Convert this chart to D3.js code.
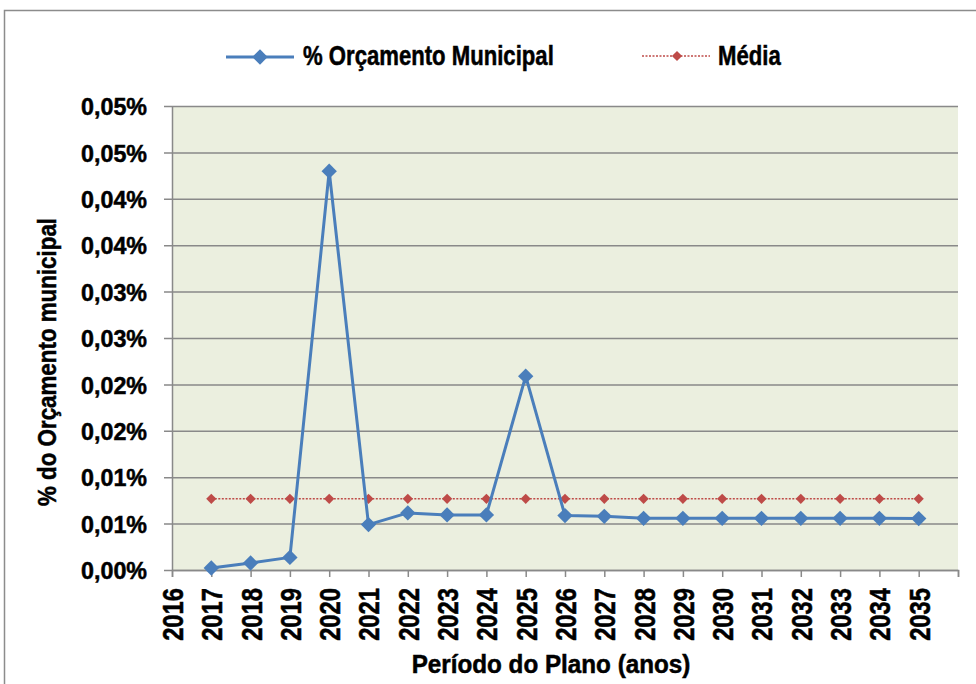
<!DOCTYPE html>
<html>
<head>
<meta charset="utf-8">
<script src="https://cdn.jsdelivr.net/npm/d3@7"></script>
<style>
  body { margin: 0; background: #fff; }
  text { font-family: "Liberation Sans", Arial, sans-serif; font-weight: bold; fill: #000;
         stroke: #000; stroke-width: 0.5px; }
</style>
</head>
<body>
<svg width="976" height="684"></svg>
<script>
// data (values in % units)
var years = [2017, 2018, 2019, 2020, 2021, 2022, 2023, 2024, 2025, 2026,
             2027, 2028, 2029, 2030, 2031, 2032, 2033, 2034, 2035];
var orcamento = [0.00022, 0.00076, 0.00136, 0.04298, 0.00489, 0.00615, 0.00594, 0.00594, 0.02089, 0.00586,
                 0.00578, 0.00557, 0.00557, 0.00557, 0.00557, 0.00557, 0.00557, 0.00557, 0.00554];
var media = [0.00767, 0.00767, 0.00767, 0.00767, 0.00767, 0.00767, 0.00767, 0.00767, 0.00767, 0.00767,
             0.00767, 0.00767, 0.00767, 0.00767, 0.00767, 0.00767, 0.00767, 0.00767, 0.00767];

var xTickYears = [2016, 2017, 2018, 2019, 2020, 2021, 2022, 2023, 2024, 2025, 2026,
                  2027, 2028, 2029, 2030, 2031, 2032, 2033, 2034, 2035, 2036];
var xTickLabels = ["2016", "2017", "2018", "2019", "2020", "2021", "2022", "2023", "2024", "2025", "2026",
                   "2027", "2028", "2029", "2030", "2031", "2032", "2033", "2034", "2035", ""];
var yTickValues = [0, 0.005, 0.01, 0.015, 0.02, 0.025, 0.03, 0.035, 0.04, 0.045, 0.05];
var yTickLabels = ["0,00%", "0,01%", "0,01%", "0,02%", "0,02%", "0,03%", "0,03%", "0,04%", "0,04%", "0,05%", "0,05%"];

var seriesNames = ["% Orçamento Municipal", "Média"];

var blue = "#4A7EBB", red = "#BE4B48", grid = "#898989";
var plot = {left: 172, right: 958, top: 106, bottom: 570};

// the chart font is a narrow bold sans; Liberation Sans squeezed sideways stands in for it
var narrow = 0.82;

var svg = d3.select("svg");

// outer frame
svg.append("rect")
  .attr("x", 4.5).attr("y", 10.5)
  .attr("width", 1000).attr("height", 700)
  .attr("fill", "none").attr("stroke", "#8c8c8c").attr("stroke-width", 1.5);

var x = d3.scaleLinear().domain([2016, 2036]).range([plot.left, plot.right]);
var y = d3.scaleLinear().domain([0, 0.05]).range([plot.bottom, plot.top]);

// plot background
svg.append("rect")
  .attr("x", plot.left).attr("y", plot.top)
  .attr("width", plot.right - plot.left).attr("height", plot.bottom - plot.top)
  .attr("fill", "#EBEFDF");

// y axis with gridlines
var ySx = 0.97;
var yAxis = svg.append("g")
  .attr("transform", "translate(" + plot.left + ",0)")
  .call(d3.axisLeft(y)
    .tickValues(yTickValues)
    .tickSizeInner(-(plot.right - plot.left))
    .tickSizeOuter(0)
    .tickFormat(function(d, i) { return yTickLabels[i]; }));
yAxis.select(".domain").attr("stroke", grid).attr("stroke-width", 1.5);
yAxis.selectAll(".tick line").attr("x1", -8).attr("stroke", grid).attr("stroke-width", 1.5);
yAxis.selectAll(".tick text")
  .attr("x", -25 / ySx)
  .attr("dy", "0.36em")
  .attr("transform", "scale(" + ySx + ",1)")
  .style("font-size", "24px");

// x axis
var xSx = narrow;
var xAxis = svg.append("g")
  .attr("transform", "translate(0," + plot.bottom + ")")
  .call(d3.axisBottom(x)
    .tickValues(xTickYears)
    .tickSize(7)
    .tickFormat(function(d, i) { return xTickLabels[i]; }));
xAxis.select(".domain").attr("stroke", grid).attr("stroke-width", 1.5);
xAxis.selectAll(".tick text")
  .attr("x", -18 / xSx)
  .attr("y", 0)
  .attr("dy", "0.36em")
  .attr("text-anchor", "end")
  .attr("transform", "rotate(-90) scale(" + xSx + ",1)")
  .style("font-size", "29px");
xAxis.selectAll(".tick line").attr("stroke", grid).attr("stroke-width", 1.5);

// series
var points = years.map(function(yr, i) { return {x: yr, o: orcamento[i], m: media[i]}; });

var lineO = d3.line().x(function(d) { return x(d.x); }).y(function(d) { return y(d.o); });
var lineM = d3.line().x(function(d) { return x(d.x); }).y(function(d) { return y(d.m); });

var bigDiamond = d3.symbol(d3.symbolSquare, 118);
var smallDiamond = d3.symbol(d3.symbolSquare, 52);

svg.append("path").datum(points)
  .attr("d", lineM)
  .attr("fill", "none").attr("stroke", red)
  .attr("stroke-width", 1.5).attr("stroke-dasharray", "2,1.5");
svg.selectAll(".m").data(points).enter().append("path")
  .attr("class", "m")
  .attr("d", smallDiamond)
  .attr("fill", red)
  .attr("transform", function(d) { return "translate(" + x(d.x) + "," + y(d.m) + ") rotate(45)"; });

svg.append("path").datum(points)
  .attr("d", lineO)
  .attr("fill", "none").attr("stroke", blue)
  .attr("stroke-width", 3).attr("stroke-linejoin", "round");
svg.selectAll(".o").data(points).enter().append("path")
  .attr("class", "o")
  .attr("d", bigDiamond)
  .attr("fill", blue)
  .attr("transform", function(d) { return "translate(" + x(d.x) + "," + y(d.o) + ") rotate(45)"; });

// scaled text helper
var label = function(px, py, rot, sx, size, anchor, str) {
  svg.append("g")
    .attr("transform", "translate(" + px + "," + py + ") rotate(" + rot + ") scale(" + sx + ",1)")
    .append("text")
    .attr("text-anchor", anchor)
    .style("font-size", size + "px")
    .text(str);
};

// legend
svg.append("line").attr("x1", 226).attr("x2", 294).attr("y1", 57).attr("y2", 57)
  .attr("stroke", blue).attr("stroke-width", 3);
svg.append("path").attr("d", bigDiamond).attr("fill", blue)
  .attr("transform", "translate(260,57) rotate(45)");
label(303, 65, 0, narrow, 27, "start", seriesNames[0]);

svg.append("line").attr("x1", 642).attr("x2", 710).attr("y1", 56).attr("y2", 56)
  .attr("stroke", red).attr("stroke-width", 1.5).attr("stroke-dasharray", "2,1.5");
svg.append("path").attr("d", smallDiamond).attr("fill", red)
  .attr("transform", "translate(677,56) rotate(45)");
label(718, 65, 0, narrow, 27, "start", seriesNames[1]);

// axis titles
label(551, 673, 0, 0.97, 25, "middle", "Período do Plano (anos)");
label(56, 362, -90, 0.86, 26, "middle", "% do Orçamento municipal");
</script>
</body>
</html>
